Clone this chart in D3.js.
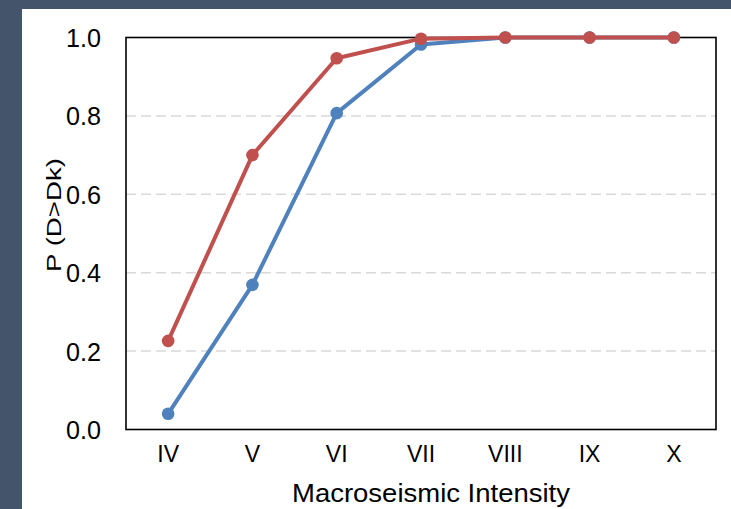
<!DOCTYPE html>
<html>
<head>
<meta charset="utf-8">
<script src="https://cdn.jsdelivr.net/npm/d3@7"></script>
<style>
  html, body { margin: 0; padding: 0; background: #44546A; }
  svg { display: block; }
  text { font-family: "Liberation Sans", Arial, sans-serif; fill: #000; }
</style>
</head>
<body>
<svg id="chart" width="731" height="509"></svg>
<script>
// Intensity levels on the horizontal axis
const intensities = ["IV", "V", "VI", "VII", "VIII", "IX", "X"];
// Exceedance probabilities for the two curves
const seriesBlue = [0.04, 0.369, 0.807, 0.982, 1.0, 1.0, 1.0];
const seriesRed  = [0.226, 0.700, 0.947, 0.997, 1.0, 1.0, 1.0];
const yTicks = [0.0, 0.2, 0.4, 0.6, 0.8, 1.0];

const svg = d3.select("#chart");
const W = 731, H = 509;

// white page area inside the slate frame
svg.append("rect").attr("x", 22).attr("y", 9)
  .attr("width", W - 22).attr("height", H - 9).attr("fill", "#fff");

const plot = { left: 126, right: 716, top: 37.5, bottom: 429.5 };

const x = d3.scaleBand().domain(intensities)
  .range([plot.left, plot.right]).paddingInner(0).paddingOuter(0);
const y = d3.scaleLinear().domain([0, 1]).range([plot.bottom, plot.top]);
const cx = d => x(d) + x.bandwidth() / 2;

// dashed horizontal gridlines
svg.append("g").selectAll("line")
  .data(yTicks.filter(t => t > 0 && t < 1))
  .join("line")
  .attr("x1", plot.left).attr("x2", plot.right)
  .attr("y1", d => y(d)).attr("y2", d => y(d))
  .attr("stroke", "#D9D9D9").attr("stroke-width", 1.5)
  .attr("stroke-dasharray", "10,5");

// plot frame
svg.append("rect")
  .attr("x", plot.left).attr("y", plot.top)
  .attr("width", plot.right - plot.left).attr("height", plot.bottom - plot.top)
  .attr("fill", "none").attr("stroke", "#000").attr("stroke-width", 1.6);

// y axis labels
const yAxis = d3.axisLeft(y).tickValues(yTicks).tickFormat(d3.format(".1f"))
  .tickSize(0).tickPadding(25);
const gy = svg.append("g").attr("transform", `translate(${plot.left},0)`).call(yAxis);
gy.select(".domain").remove();
gy.selectAll("text").attr("font-size", 25).attr("fill", "#000").attr("dy", "0.36em")
  .attr("textLength", 35).attr("lengthAdjust", "spacingAndGlyphs");

// x axis labels
const xAxis = d3.axisBottom(x).tickSize(0).tickPadding(16);
const gx = svg.append("g").attr("transform", `translate(0,${plot.bottom})`).call(xAxis);
gx.select(".domain").remove();
gx.selectAll("text").attr("font-size", 23).attr("fill", "#000");

// axis titles
svg.append("text")
  .attr("x", 431).attr("y", 502)
  .attr("text-anchor", "middle").attr("font-size", 25)
  .attr("textLength", 278).attr("lengthAdjust", "spacingAndGlyphs")
  .text("Macroseismic Intensity");

svg.append("text")
  .attr("transform", "translate(61,215) rotate(-90)")
  .attr("text-anchor", "middle").attr("font-size", 21)
  .attr("textLength", 114).attr("lengthAdjust", "spacingAndGlyphs")
  .text("P (D>Dk)");

// curves with markers
const line = d3.line().x(d => cx(d.k)).y(d => y(d.v));
function drawSeries(values, color) {
  const pts = intensities.map((k, i) => ({ k, v: values[i] }));
  svg.append("path").datum(pts)
    .attr("d", line).attr("fill", "none")
    .attr("stroke", color).attr("stroke-width", 4)
    .attr("stroke-linejoin", "round");
  svg.append("g").selectAll("circle").data(pts).join("circle")
    .attr("cx", d => cx(d.k)).attr("cy", d => y(d.v))
    .attr("r", 6.3).attr("fill", color);
}
drawSeries(seriesBlue, "#4F81BD");
drawSeries(seriesRed, "#C0504D");
</script>
</body>
</html>
